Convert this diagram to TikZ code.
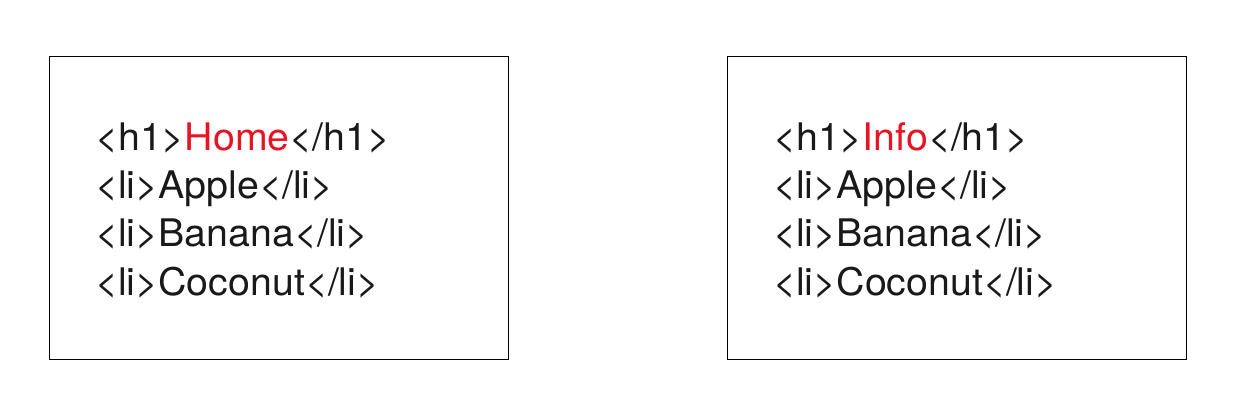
\documentclass[tikz,border=0pt]{standalone}
\usepackage{fontspec}
\setmainfont{TeX Gyre Heros}[FakeStretch=1.035]
\definecolor{hred}{RGB}{232,20,35}
\begin{document}
\begin{tikzpicture}[x=1pt,y=-1pt,
  page/.style={draw=black,line width=0.8pt},
  codeline/.style={anchor=base west,inner sep=0pt,font=\fontsize{38}{46}\selectfont,text=black!90}]
\useasboundingbox (0,0) rectangle (1240,412);
\draw[page] (49,56) rectangle (508,359);
\draw[page] (727,56) rectangle (1186,359);
\node[codeline] (l1) at (95,150) {<h1>\textcolor{hred}{Home}</h1>};
\node[codeline] (l2) at (95,198.3) {<li>Apple</li>};
\node[codeline] (l3) at (95,246.6) {<li>Banana</li>};
\node[codeline] (l4) at (95,295) {<li>Coconut</li>};
\node[codeline] (r1) at (773,150) {<h1>\textcolor{hred}{Info}</h1>};
\node[codeline] (r2) at (773,198.3) {<li>Apple</li>};
\node[codeline] (r3) at (773,246.6) {<li>Banana</li>};
\node[codeline] (r4) at (773,295) {<li>Coconut</li>};
\end{tikzpicture}
\end{document}
